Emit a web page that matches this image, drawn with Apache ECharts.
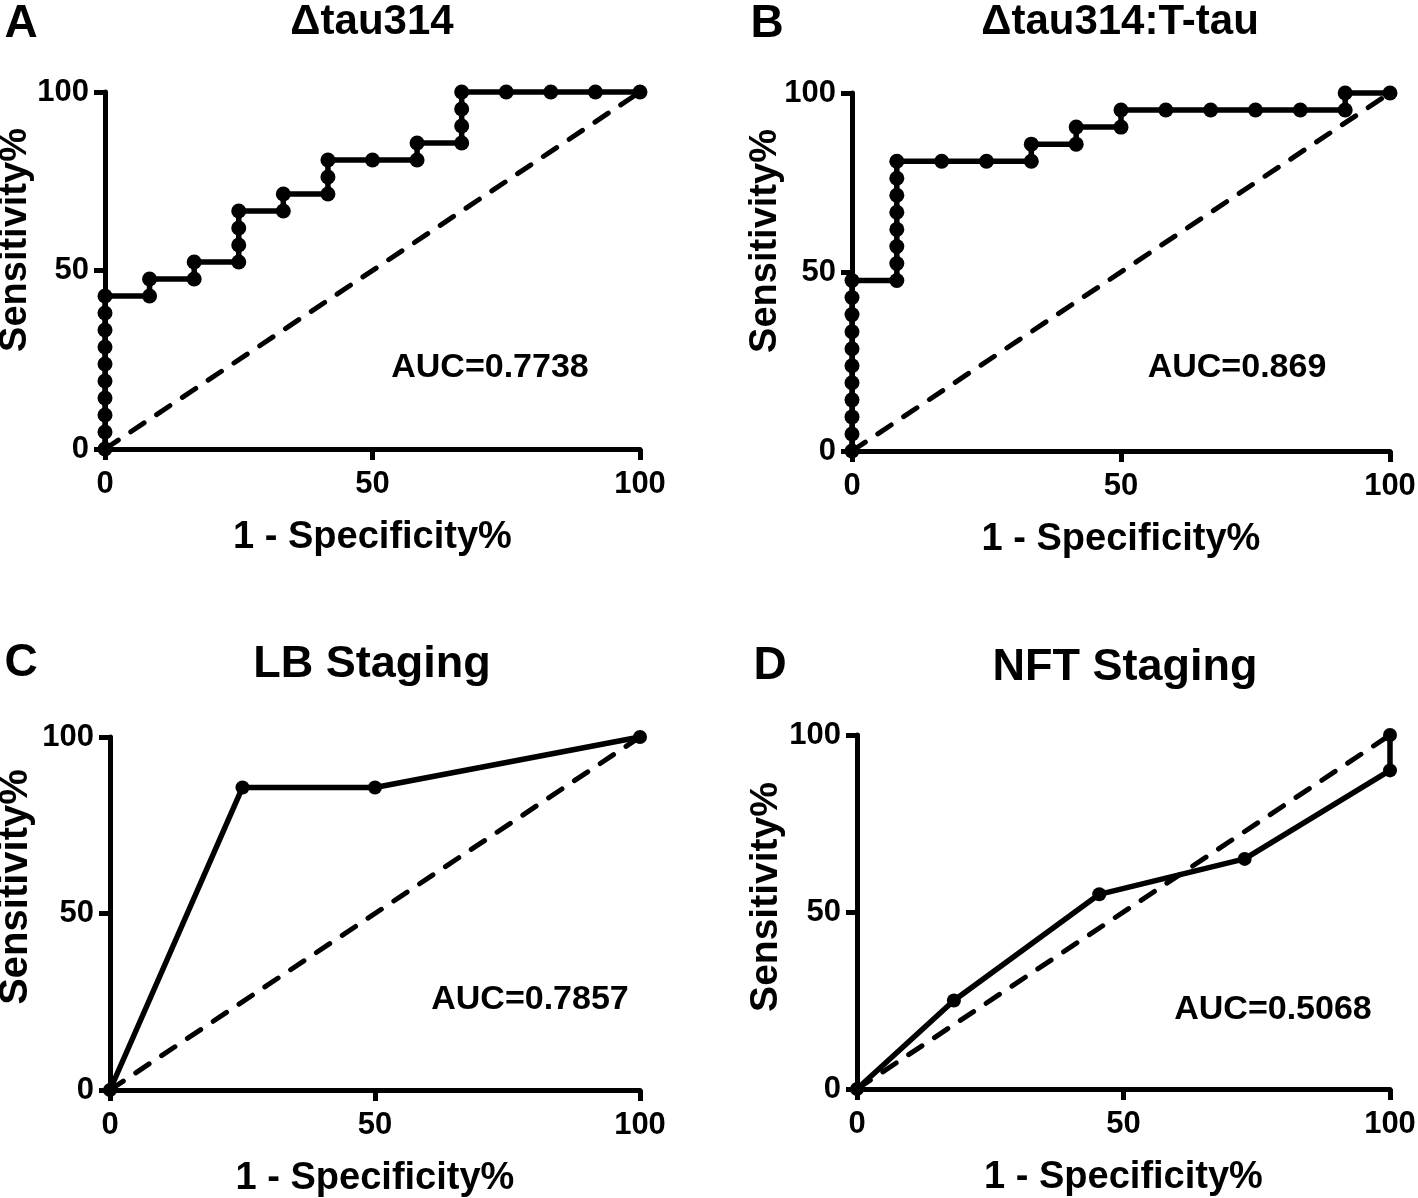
<!DOCTYPE html>
<html><head><meta charset="utf-8">
<script src="https://cdn.jsdelivr.net/npm/echarts@6/dist/echarts.min.js"></script>
<style>html,body{margin:0;padding:0;background:#fff}#c{width:1418px;height:1198px}</style>
</head><body><div id="c"></div>
<script>
// Panel A: Δtau314
const aX = [0,0,0,0,0,0,0,0,0,0, 8.33,8.33, 16.67,16.67, 25,25,25,25, 33.33,33.33, 41.67,41.67,41.67, 50, 58.33,58.33, 66.67,66.67,66.67,66.67, 75, 83.33, 91.67, 100];
const aY = [0,4.76,9.52,14.29,19.05,23.81,28.57,33.33,38.10,42.86, 42.86,47.62, 47.62,52.38, 52.38,57.14,61.90,66.67, 66.67,71.43, 71.43,76.19,80.95, 80.95, 80.95,85.71, 85.71,90.48,95.24,100, 100, 100, 100, 100];
// Panel B: Δtau314:T-tau
const bX = [0,0,0,0,0,0,0,0,0,0,0, 8.33,8.33,8.33,8.33,8.33,8.33,8.33,8.33, 16.67, 25, 33.33,33.33, 41.67,41.67, 50,50, 58.33, 66.67, 75, 83.33, 91.67,91.67, 100];
const bY = [0,4.76,9.52,14.29,19.05,23.81,28.57,33.33,38.10,42.86,47.62, 47.62,52.38,57.14,61.90,66.67,71.43,76.19,80.95, 80.95, 80.95, 80.95,85.71, 85.71,90.48, 90.48,95.24, 95.24, 95.24, 95.24, 95.24, 95.24,100, 100];
// Panel C: LB Staging
const cX = [0, 25, 50, 100];
const cY = [0, 85.71, 85.71, 100];
// Panel D: NFT Staging
const dX = [0, 18.18, 45.45, 72.73, 100, 100];
const dY = [0, 25, 55, 65, 90, 100];
// Reference diagonal
const refX = [0, 100];
const refY = [0, 100];

const titles = ['\u0394tau314', '\u0394tau314:T-tau', 'LB Staging', 'NFT Staging'];
const letters = ['A', 'B', 'C', 'D'];
const aucs = ['AUC=0.7738', 'AUC=0.869', 'AUC=0.7857', 'AUC=0.5068'];
const xTicks = [0, 50, 100];
const yTicks = [0, 50, 100];
const xName = '1 - Specificity%';
const yName = 'Sensitivity%';

const FONT = '"Liberation Sans", Arial, Helvetica, sans-serif';
const panels = [
  {x: aX, y: aY, grid: {left: 105, top: 92, width: 535, height: 357}, sym: 15, title: [372, 22, 42], letter: [21, 24], auc: [490, 368], yname: [16, 240, 38]},
  {x: bX, y: bY, grid: {left: 852, top: 93, width: 538, height: 358}, sym: 15, title: [1120, 22, 42], letter: [767, 24], auc: [1237, 368], yname: [766, 241, 38]},
  {x: cX, y: cY, grid: {left: 110, top: 737, width: 530, height: 353}, sym: 14, title: [372, 665, 45], letter: [21, 663], auc: [530, 1000], yname: [16, 887, 40]},
  {x: dX, y: dY, grid: {left: 857, top: 735, width: 533, height: 354}, sym: 14, title: [1125, 668, 45], letter: [770, 666], auc: [1273, 1010], yname: [766, 897, 39]}
];

const zip = (xs, ys) => xs.map((v, i) => [v, ys[i]]);
const axisCommon = {
  type: 'value', min: 0, max: 100, interval: 50,
  axisLine: {show: true, lineStyle: {color: '#000', width: 5}},
  axisTick: {show: true, length: 11, lineStyle: {color: '#000', width: 5}},
  splitLine: {show: false},
  axisLabel: {color: '#000', fontSize: 31, fontWeight: 'bold', fontFamily: FONT},
  nameLocation: 'middle',
  nameTextStyle: {color: '#000', fontSize: 38, fontWeight: 'bold', fontFamily: FONT}
};

const option = {
  backgroundColor: '#fff',
  animation: false,
  grid: panels.map(p => Object.assign({containLabel: false, outerBoundsMode: 'none'}, p.grid)),
  xAxis: panels.map((p, i) => Object.assign({}, axisCommon, {
    gridIndex: i, name: xName, nameGap: 70,
    axisLabel: Object.assign({}, axisCommon.axisLabel, {margin: 20})
  })),
  yAxis: panels.map((p, i) => Object.assign({}, axisCommon, {
    gridIndex: i, name: '',
    axisLabel: Object.assign({}, axisCommon.axisLabel, {margin: 16})
  })),
  series: [],
  graphic: []
};

panels.forEach((p, i) => {
  option.series.push({
    type: 'line', xAxisIndex: i, yAxisIndex: i, data: zip(refX, refY),
    symbol: 'none', clip: false,
    lineStyle: {color: '#000', width: 5, type: [16, 15], cap: 'round'}, z: 2
  });
  option.series.push({
    type: 'line', xAxisIndex: i, yAxisIndex: i, data: zip(p.x, p.y),
    symbol: 'circle', symbolSize: p.sym, clip: false,
    itemStyle: {color: '#000'},
    lineStyle: {color: '#000', width: 5.5}, z: 3
  });
  option.graphic.push({
    type: 'text', x: p.title[0], y: p.title[1], z: 10,
    style: {text: titles[i], fill: '#000', font: 'bold ' + p.title[2] + 'px ' + FONT, align: 'center', verticalAlign: 'middle'}
  });
  option.graphic.push({
    type: 'text', x: p.letter[0], y: p.letter[1], z: 10,
    style: {text: letters[i], fill: '#000', font: 'bold 46px ' + FONT, align: 'center', verticalAlign: 'middle'}
  });
  option.graphic.push({
    type: 'text', x: p.auc[0], y: p.auc[1], z: 10,
    style: {text: aucs[i], fill: '#000', font: 'bold 34px ' + FONT, align: 'center', verticalAlign: 'middle'}
  });
  option.graphic.push({
    type: 'text', x: p.yname[0], y: p.yname[1], rotation: Math.PI / 2, z: 10,
    style: {text: yName, fill: '#000', font: 'bold ' + p.yname[2] + 'px ' + FONT, align: 'center', verticalAlign: 'middle'}
  });
});

const chart = echarts.init(document.getElementById('c'), null, {renderer: 'canvas'});
chart.setOption(option);
</script>
</body></html>
